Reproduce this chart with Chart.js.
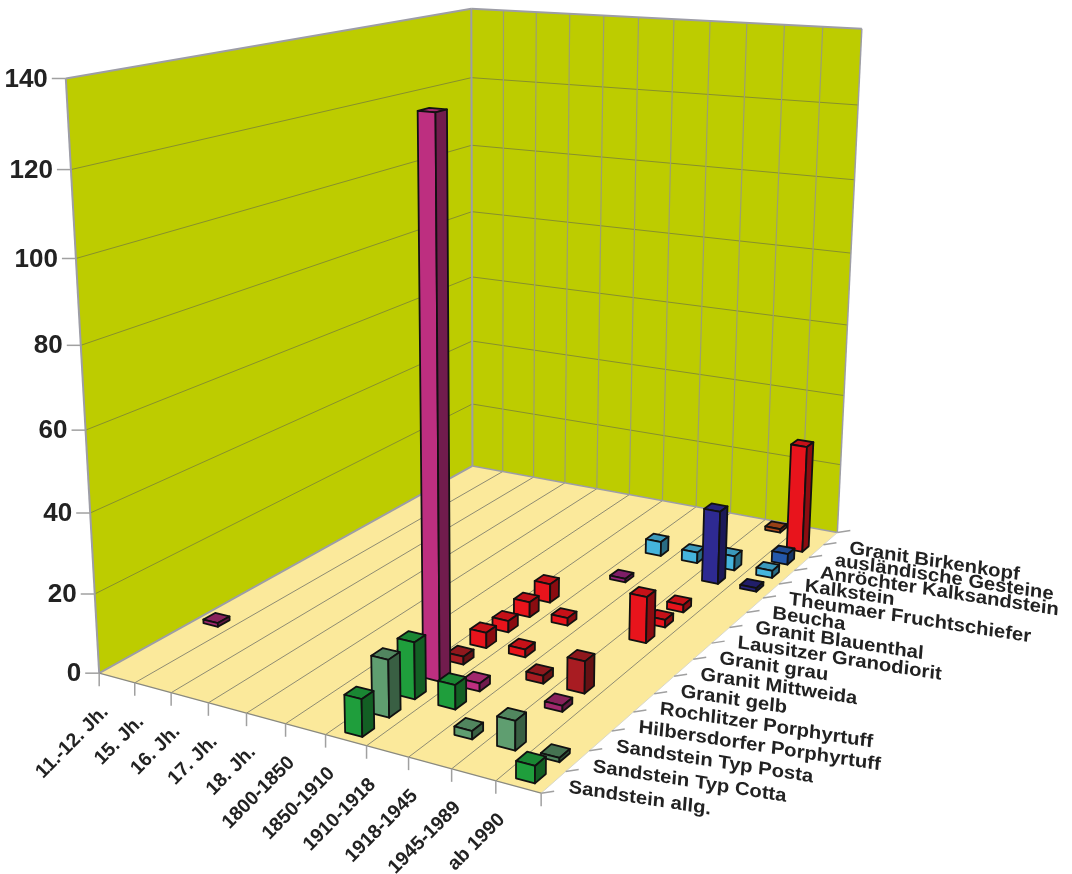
<!DOCTYPE html>
<html>
<head>
<meta charset="utf-8">
<script src="https://cdn.jsdelivr.net/npm/chart.js@4"></script>
<style>html,body{margin:0;background:#fff}canvas{display:block}</style>
</head>
<body>
<canvas id="c" width="1072" height="874"></canvas>
<script>
// Kategorien und Werte, eine Reihe pro Gestein, 0 = kein Balken
const periods = ['11.-12. Jh.','15. Jh.','16. Jh.','17. Jh.','18. Jh.','1800-1850','1850-1910','1910-1918','1918-1945','1945-1989','ab 1990'];
const stones = ['Sandstein allg.','Sandstein Typ Cotta','Sandstein Typ Posta','Hilbersdorfer Porphyrtuff','Rochlitzer Porphyrtuff','Granit gelb','Granit Mittweida','Granit grau','Lausitzer Granodiorit','Granit Blauenthal','Beucha','Theumaer Fruchtschiefer','Kalkstein','Anröchter Kalksandstein','ausländische Gesteine','Granit Birkenkopf'];
const yTicks = [0,20,40,60,80,100,120,140];

const sandsteinAllg   = [0,0,0,0,0,0,9,0,0,0,4];
const typCotta        = [0,0,0,0,0,0,14,0,2,7,1];
const typPosta        = [0,0,0,0,0,0,14,6,0,0,0];
const hilbersdorfer   = [1,0,0,0,0,0,133,2,0,1.5,0];
const rochlitzer      = [0,0,0,0,0,0,2,0,2,8,0];
const granitGelb      = [0,0,0,0,0,0,4,2,0,0,0];
const granitMittweida = [0,0,0,0,0,0,3,0,0,0,0];
const granitGrau      = [0,0,0,0,0,0,4,2,0,12,0];
const lausitzer       = [0,0,0,0,0,0,5,0,0,2,0];
const blauenthal      = [0,0,0,0,0,0,0,0,0,2,0];
const beucha          = [0,0,0,0,0,0,0,1,0,0,0];
const theumaer        = [0,0,0,0,0,0,0,0,0,20,1];
const kalkstein       = [0,0,0,0,0,0,0,4,3,4,2];
const anroechter      = [0,0,0,0,0,0,0,0,0,0,3];
const auslaendische   = [0,0,0,0,0,0,0,0,0,0,30];
const birkenkopf      = [0,0,0,0,0,0,0,0,0,1,0];
const seriesValues = [sandsteinAllg,typCotta,typPosta,hilbersdorfer,rochlitzer,granitGelb,granitMittweida,granitGrau,lausitzer,blauenthal,beucha,theumaer,kalkstein,anroechter,auslaendische,birkenkopf];

const stoneColors = ['#1f9e3c','#5f9e70','#1f9e3c','#bd2f80','#a81c22','#e8141c','#e8141c','#e8141c','#e8141c','#e8141c','#b02a90','#2e2a92','#45b4dc','#2458aa','#e8141c','#d2591e'];

// Ecken des 3D-Diagramms im Bild, daraus wird die Projektion bestimmt
const corners = [[0,0,0,100,672],[1,0,0,540,795],[1,1,0,838,530],[0,1,0,472,468],[0,0,1,66,78],[0,1,1,471,8],[1,1,1,862,30]];

function solve(A, b) {
    const n = b.length;
    const M = A.map((r, i) => [...r, b[i]]);
    for (let i = 0; i < n; i++) {
        let p = i;
        for (let k = i + 1; k < n; k++) if (Math.abs(M[k][i]) > Math.abs(M[p][i])) p = k;
        [M[i], M[p]] = [M[p], M[i]];
        for (let k = 0; k < n; k++) {
            if (k === i) continue;
            const f = M[k][i] / M[i][i];
            for (let j = i; j <= n; j++) M[k][j] -= f * M[i][j];
        }
    }
    return M.map((r, i) => r[n] / r[i]);
}

const rows = [], rhs = [];
corners.forEach(([u, v, w, px, py]) => {
    const x = px / 1000, y = py / 1000;
    rows.push([u, v, w, 1, 0, 0, 0, 0, -x * u, -x * v, -x * w]); rhs.push(x);
    rows.push([0, 0, 0, 0, u, v, w, 1, -y * u, -y * v, -y * w]); rhs.push(y);
});
const ATA = rows[0].map((_, i) => rows[0].map((_, j) => rows.reduce((s, r) => s + r[i] * r[j], 0)));
const ATb = rows[0].map((_, i) => rows.reduce((s, r, k) => s + r[i] * rhs[k], 0));
const P = solve(ATA, ATb);

function project(u, v, w) {
    const d = P[8] * u + P[9] * v + P[10] * w + 1;
    return [1000 * (P[0] * u + P[1] * v + P[2] * w + P[3]) / d, 1000 * (P[4] * u + P[5] * v + P[6] * w + P[7]) / d];
}

function shade(hex, k) {
    const n = parseInt(hex.slice(1), 16);
    return 'rgb(' + [(n >> 16) & 255, (n >> 8) & 255, n & 255].map(c => Math.round(c * k)).join(',') + ')';
}

function poly(ctx, points, fill, stroke, lw) {
    ctx.beginPath();
    points.forEach((p, i) => i ? ctx.lineTo(p[0], p[1]) : ctx.moveTo(p[0], p[1]));
    ctx.closePath();
    if (fill) { ctx.fillStyle = fill; ctx.fill(); }
    if (stroke) { ctx.strokeStyle = stroke; ctx.lineWidth = lw; ctx.stroke(); }
}

function line(ctx, a, b, color, lw) {
    ctx.beginPath();
    ctx.moveTo(a[0], a[1]);
    ctx.lineTo(b[0], b[1]);
    ctx.strokeStyle = color;
    ctx.lineWidth = lw;
    ctx.stroke();
}

const box3d = {
    id: 'box3d',
    afterDatasetsDraw(chart) {
        const ctx = chart.ctx;
        const xs = chart.scales.x, ys = chart.scales.y, zs = chart.scales.z;
        const fx = val => (xs.getPixelForValue(val) - xs.left) / xs.width;
        const fz = val => (zs.getPixelForValue(val) - zs.left) / zs.width;
        const fy = val => (ys.bottom - ys.getPixelForValue(val)) / ys.height;
        const du = 1 / periods.length, dv = 1 / stones.length;

        ctx.save();
        ctx.lineJoin = 'round';

        // Waende und Boden
        poly(ctx, [project(0,0,0), project(0,1,0), project(0,1,1), project(0,0,1)], '#bdcc00');
        poly(ctx, [project(0,1,0), project(1,1,0), project(1,1,1), project(0,1,1)], '#bdcc00');
        poly(ctx, [project(0,0,0), project(1,0,0), project(1,1,0), project(0,1,0)], '#fbe99b');

        ys.ticks.forEach(t => {
            const w = fy(t.value);
            if (t.value > 0 && t.value < 140) {
                line(ctx, project(0,0,w), project(0,1,w), '#87902c', 1);
                line(ctx, project(0,1,w), project(1,1,w), '#87902c', 1);
            }
        });
        periods.forEach((p, i) => {
            const u = fx(p) + du / 2;
            if (i < periods.length - 1) {
                line(ctx, project(u,0,0), project(u,1,0), '#8f8c72', 1);
                line(ctx, project(u,1,0), project(u,1,1), '#9c9f70', 1.2);
            }
        });
        const edge = '#9d9da6';
        line(ctx, project(0,0,1), project(0,1,1), edge, 2);
        line(ctx, project(0,1,1), project(1,1,1), edge, 2);
        line(ctx, project(0,1,0), project(0,1,1), edge, 2);
        line(ctx, project(0,0,0), project(0,0,1), edge, 2);
        line(ctx, project(1,1,0), project(1,1,1), edge, 1.5);
        line(ctx, project(0,0,0), project(0,1,0), edge, 2);
        line(ctx, project(0,1,0), project(1,1,0), edge, 1.5);
        line(ctx, project(0,0,0), project(1,0,0), '#8a8a80', 1.2);
        line(ctx, project(1,0,0), project(1,1,0), '#d8d8cc', 1);

        // Balken von hinten nach vorn
        const bars = [];
        chart.data.datasets.forEach(ds => {
            ds.data.forEach(d => bars.push({ u: fx(d.x), v: fz(ds.label), w: fy(d.y), color: ds.backgroundColor, low: d.y < 2 }));
        });
        bars.sort((a, b) => b.v - a.v || a.u - b.u);
        const hu = du * 0.21, hv = dv * 0.22;
        bars.forEach(b => {
            const u0 = b.u - hu, u1 = b.u + hu, v0 = b.v - hv, v1 = b.v + hv;
            const k = b.low ? 0.85 : 1;
            poly(ctx, [project(u0,v0,b.w), project(u1,v0,b.w), project(u1,v1,b.w), project(u0,v1,b.w)], shade(b.color, 0.85 * k), '#111', 1.8);
            poly(ctx, [project(u0,v0,0), project(u1,v0,0), project(u1,v0,b.w), project(u0,v0,b.w)], shade(b.color, k), '#111', 1.8);
            poly(ctx, [project(u1,v0,0), project(u1,v1,0), project(u1,v1,b.w), project(u1,v0,b.w)], shade(b.color, 0.6 * k), '#111', 1.8);
        });

        // Achsenbeschriftung
        ctx.fillStyle = '#222';
        ctx.textBaseline = 'middle';
        ctx.font = 'bold 26px "Liberation Sans"';
        ctx.textAlign = 'right';
        ys.ticks.forEach(t => {
            const p = project(0, 0, fy(t.value));
            line(ctx, [p[0] - 14, p[1]], p, '#a0a0a0', 1.5);
            ctx.fillText(String(t.value), p[0] - 18, p[1] + 1);
        });

        ctx.font = 'bold 19.5px "Liberation Sans"';
        periods.forEach(label => {
            const p = project(fx(label) - du / 2, 0, 0);
            line(ctx, p, [p[0], p[1] + 13], '#a0a0a0', 1.5);
            ctx.save();
            ctx.translate(p[0] + 6, p[1] + 36);
            ctx.rotate(-Math.PI / 4);
            ctx.fillText(label, 0, 0);
            ctx.restore();
        });
        const last = project(1, 0, 0);
        line(ctx, last, [last[0], last[1] + 13], '#a0a0a0', 1.5);

        ctx.textAlign = 'left';
        ctx.font = 'bold 18.5px "Liberation Sans"';
        stones.forEach(label => {
            const v = fz(label);
            const t = project(1, v - dv / 2, 0);
            line(ctx, t, [t[0] + 13, t[1] - 2], '#a0a0a0', 1.5);
            const p = project(1, v, 0);
            ctx.save();
            ctx.transform(1.09, 0.17, -0.08, 1, p[0] + 15 + 4 * v, p[1] + 5 + 5 * v);
            ctx.fillText(label, 0, 0);
            ctx.restore();
        });
        const t = project(1, 1, 0);
        line(ctx, t, [t[0] + 13, t[1] - 2], '#a0a0a0', 1.5);
        ctx.restore();
    }
};

new Chart(document.getElementById('c'), {
    type: 'scatter',
    data: {
        datasets: stones.map((stone, k) => ({
            label: stone,
            backgroundColor: stoneColors[k],
            pointRadius: 0,
            data: periods.map((p, i) => ({ x: p, y: seriesValues[k][i] })).filter(d => d.y > 0)
        }))
    },
    options: {
        responsive: false,
        animation: false,
        devicePixelRatio: 1,
        layout: { padding: 0 },
        plugins: { legend: { display: false }, tooltip: { enabled: false } },
        scales: {
            x: { type: 'category', labels: periods, offset: true, display: false },
            z: { type: 'category', labels: stones, offset: true, display: false, axis: 'x' },
            y: { type: 'linear', min: yTicks[0], max: yTicks[yTicks.length - 1], ticks: { stepSize: 20 }, display: false }
        }
    },
    plugins: [box3d]
});
</script>
</body>
</html>
